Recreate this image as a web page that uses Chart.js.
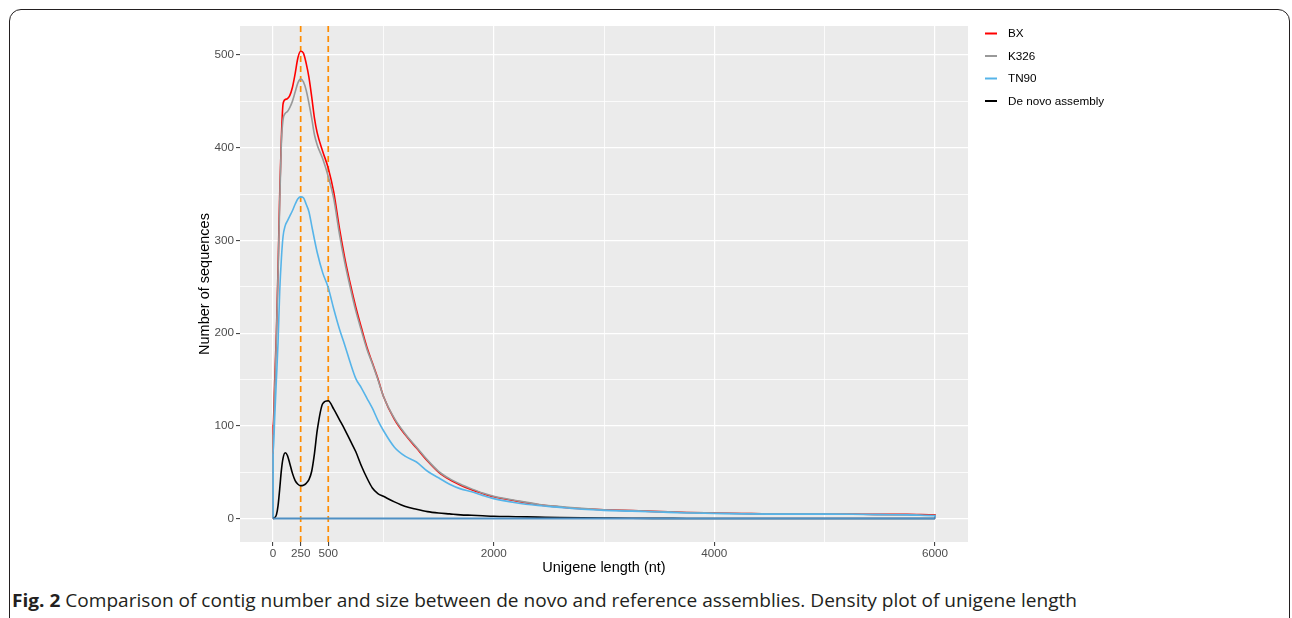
<!DOCTYPE html>
<html><head><meta charset="utf-8">
<script src="https://cdn.jsdelivr.net/npm/chart.js@4.4.1/dist/chart.umd.min.js"></script>
<style>
html,body{margin:0;padding:0;background:#fff;width:1292px;height:618px;overflow:hidden;position:relative}
#frame{position:absolute;left:9px;top:9px;width:1281px;height:700px;border:1.5px solid #231f20;border-radius:12px;box-sizing:border-box}
#c{position:absolute;left:0;top:0}
#cap{position:absolute;left:12px;top:588px;font-family:"Liberation Sans Narrow","Open Sans","Noto Sans",sans-serif;font-size:18px;color:#231f20;white-space:nowrap;transform-origin:0 0}
</style></head><body>
<div id="frame"></div>
<canvas id="c" width="1292" height="580"></canvas>
<div id="cap"><b>Fig. 2</b> Comparison of contig number and size between de novo and reference assemblies. Density plot of unigene length</div>
<script>
// ---- data ----
const lengths = [0,15,30,45,60,75,90,110,130,150,175,200,225,250,275,300,325,350,375,400,450,500,550,600,650,700,750,800,850,900,950,1000,1100,1200,1300,1400,1500,1600,1700,1800,1900,2000,2200,2400,2600,2800,3000,3250,3500,3750,4000,4250,4500,4750,5000,5250,5500,5750,6000];
const bx = [100,150,200,270,350,410,447,452,453,456,465,480,497,504,502,491,476,455,432,416,396,378,352,314,281,253,228,206,185,168,151,132,107,90,76,62,50,42,36,31,27,23.5,19,15,12.5,10.5,9.5,8.5,7.5,6.5,6,5.5,5,5.2,5,4.8,4.5,4.5,4];
const k326 = [90,140,195,265,340,405,430,437,439,443,450,460,470,474,471,462,448,432,414,403,388,369,345,308,276,249,224,203,183,167,150,132,108,91,77,63,51,43,37,32,27.5,24,19.5,15.5,13,11,9.5,8.5,7.5,6.5,6,5.5,5,5,5,4.8,4.3,4.2,3.5];
const tn90 = [70,110,150,190,245,280,304,316,321,326,332,339,345,347,346,339,331,316,301,287,265,249,226,205,187,168,151,141,130,119,106,95,77,67,61,51,44,37,32,29,25,21.5,17,14,12,10,8.8,8,7,6,5.5,5,4.8,4.8,4.8,4.6,4.2,4,3];
const denovo = [0,1,4,14,32,52,65,71,68,60,49,41,37,35.5,36,38,42,51,70,95,124,127,118,107,96,84,72,57,44,33,27,24,18,13,10,7.5,6,5,4,3.5,3,2.5,2,1.5,1,0.7,0.5,0.3,0.2,0.1,0,0,0,0,0,0,0,0,0];
const seriesNames = ['BX','K326','TN90','De novo assembly'];
const xTicks = [0,250,500,2000,4000,6000];
const xMinor = [1000,3000,5000];
const yTicks = [0,100,200,300,400,500];
const yMinor = [50,150,250,350,450];
const refLines = [250,500];

// ---- styling ----
const colors = ['#FF0000','#999999','#56B4E9','#000000'];
const FONT = 'Liberation Sans, Arial, sans-serif';

function closed(vals){
  const pts = [{x:0,y:0}];
  lengths.forEach((x,i)=>pts.push({x:x,y:vals[i]}));
  pts.push({x:lengths[lengths.length-1],y:0});
  return pts;
}
const seriesVals = [bx,k326,tn90,denovo];
const datasets = seriesVals.map((v,i)=>({
  label: seriesNames[i], data: closed(v), borderColor: colors[i], borderWidth: 1.6,
  pointRadius: 0, fill: false, cubicInterpolationMode: 'monotone', order: 5-i
}));
datasets.push({label:'baseline', data:[{x:0,y:0},{x:6000,y:0}], borderColor:'#4f90c4', borderWidth:2, pointRadius:0, order:0});

const refPlugin = {
  id:'refLines',
  beforeDatasetsDraw(chart){
    const {ctx, chartArea:a, scales:{x}} = chart;
    ctx.save();
    ctx.strokeStyle = '#FF8C00'; ctx.lineWidth = 1.7; ctx.setLineDash([6,4]);
    refLines.forEach(v=>{
      const px = x.getPixelForValue(v);
      ctx.beginPath(); ctx.moveTo(px,a.top); ctx.lineTo(px,a.bottom); ctx.stroke();
    });
    ctx.restore();
  }
};
const bgPlugin = {
  id:'panelBg',
  beforeDraw(chart){
    const {ctx, chartArea:a} = chart;
    ctx.save(); ctx.fillStyle = '#EBEBEB';
    ctx.fillRect(a.left,a.top,a.right-a.left,a.bottom-a.top); ctx.restore();
  }
};
const legendPlugin = {
  id:'legendKeys',
  afterDraw(chart){
    const ctx = chart.ctx;
    ctx.save();
    seriesNames.forEach((name,i)=>{
      const y = 33.5 + i*22.5;
      ctx.strokeStyle = colors[i]; ctx.lineWidth = 2;
      ctx.beginPath(); ctx.moveTo(985,y); ctx.lineTo(997,y); ctx.stroke();
      ctx.fillStyle = '#000'; ctx.font = '11.7px ' + FONT; ctx.textBaseline = 'middle';
      ctx.fillText(name, 1008, y+0.5);
    });
    ctx.restore();
  }
};

new Chart(document.getElementById('c'), {
  type:'line',
  data:{datasets},
  plugins:[bgPlugin, refPlugin, legendPlugin],
  options:{
    responsive:false, devicePixelRatio:1, animation:false,
    layout:{padding:{left:196,right:324,top:26,bottom:0}},
    plugins:{legend:{display:false}, tooltip:{enabled:false}},
    scales:{
      x:{
        type:'linear', min:-300, max:6300,
        afterBuildTicks: s => { s.ticks = [...xTicks, ...xMinor].sort((a,b)=>a-b).map(v=>({value:v})); },
        afterFit: s => { s.height = 38; },
        ticks:{ autoSkip:false, maxRotation:0, padding:1, color:'#4D4D4D', font:{family:FONT,size:11.7},
          callback: v => xTicks.includes(v) ? String(v) : '' },
        grid:{
          color: c => (c.tick && refLines.includes(c.tick.value)) ? 'rgba(0,0,0,0)' : '#FFFFFF',
          lineWidth: c => (c.tick && xMinor.includes(c.tick.value)) ? 0.8 : 1.2,
          tickLength:4, tickWidth:1,
          tickColor: c => (c.tick && xTicks.includes(c.tick.value)) ? '#333333' : 'rgba(0,0,0,0)'
        },
        border:{display:false},
        title:{display:true, text:'Unigene length (nt)', color:'#000', font:{family:FONT,size:14.5}, padding:{top:0,bottom:3.5}}
      },
      y:{
        type:'linear', min:-25.3, max:531.3,
        afterBuildTicks: s => { s.ticks = [...yTicks, ...yMinor].sort((a,b)=>a-b).map(v=>({value:v})); },
        afterFit: s => { s.width = 44; },
        ticks:{ autoSkip:false, padding:2, color:'#4D4D4D', font:{family:FONT,size:11.7},
          callback: v => yTicks.includes(v) ? String(v) : '' },
        grid:{
          color:'#FFFFFF',
          lineWidth: c => (c.tick && yMinor.includes(c.tick.value)) ? 0.8 : 1.2,
          tickLength:4, tickWidth:1,
          tickColor: c => (c.tick && yTicks.includes(c.tick.value)) ? '#333333' : 'rgba(0,0,0,0)'
        },
        border:{display:false},
        title:{display:true, text:'Number of sequences', color:'#000', font:{family:FONT,size:14.5}, padding:{top:0,bottom:0}}
      }
    }
  }
});

// fit caption width to reference span
const cap = document.getElementById('cap');
const w = cap.getBoundingClientRect().width;
cap.style.transform = 'scaleX(' + (1065 / w) + ')';
</script>
</body></html>
